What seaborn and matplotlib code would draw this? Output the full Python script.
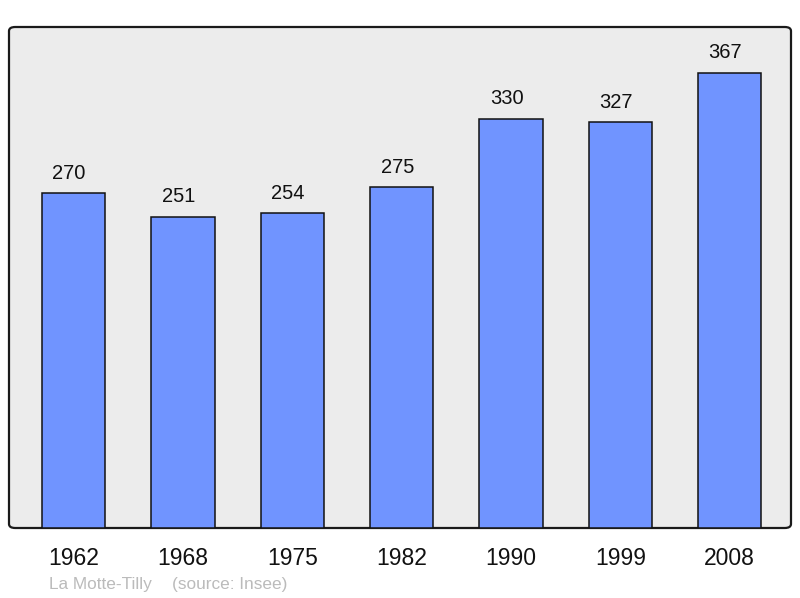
import pandas as pd
import matplotlib.pyplot as plt
import seaborn as sns
from matplotlib.patches import FancyBboxPatch

years = ['1962', '1968', '1975', '1982', '1990', '1999', '2008']
population = [270, 251, 254, 275, 330, 327, 367]
town = 'La Motte-Tilly'
source = '(source: Insee)'

df = pd.DataFrame({'year': years, 'pop': population})

sns.set_style('white')
plt.rcParams['font.family'] = ['Liberation Sans', 'DejaVu Sans']

fig = plt.figure(figsize=(8, 5.98), dpi=100)
ax = fig.add_axes([9 / 800, 1 - 528 / 598, 782 / 800, 501 / 598])
ax.set_facecolor('none')

# rounded grey frame
frame = FancyBboxPatch((0, 0), 1, 1, boxstyle='round,pad=0,rounding_size=0.008',
                       transform=ax.transAxes, facecolor='#ececec',
                       edgecolor='#1a1a1a', linewidth=1.6, zorder=0, clip_on=False)
ax.add_patch(frame)

sns.barplot(data=df, x='year', y='pop', color='#7094ff', width=0.58,
            edgecolor='#111111', linewidth=1.1, saturation=1, ax=ax, zorder=2)

for i, v in enumerate(population):
    ax.annotate(str(v), (i, v), xytext=(-3.2, 7.5), textcoords='offset points',
                ha='center', va='bottom', fontsize=14.5, color='#111111')

ax.set_xlim(-0.59, 6.56)
ax.set_ylim(0, 404)
ax.set_yticks([])
ax.set_xlabel('')
ax.set_ylabel('')
ax.tick_params(axis='x', length=0, pad=14, labelsize=16.5, labelcolor='#111111')
for s in ax.spines.values():
    s.set_visible(False)

fig.text(49 / 800, 1 - 584 / 598, town, fontsize=12.4, color='#bbbbbb', va='center')
fig.text(172 / 800, 1 - 584 / 598, source, fontsize=12.4, color='#bbbbbb', va='center')

fig.savefig('out.png', dpi=100)
